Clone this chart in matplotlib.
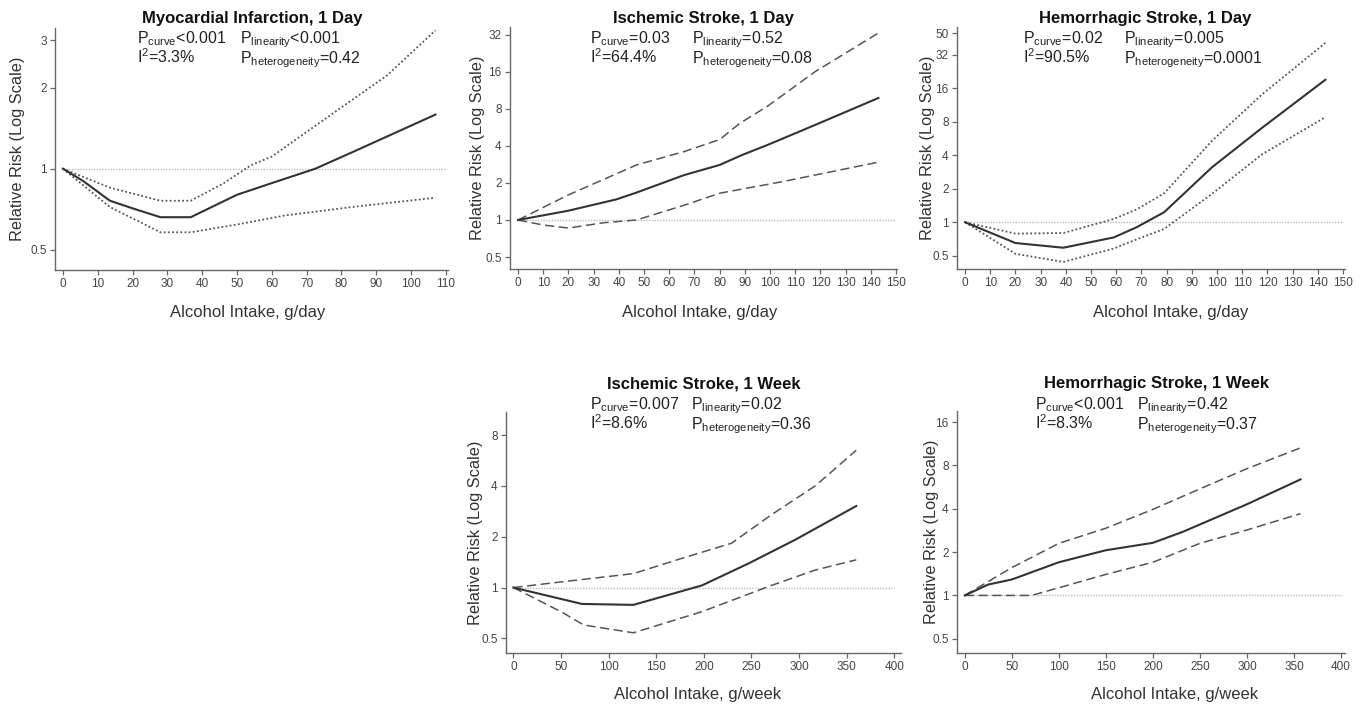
import matplotlib
matplotlib.use("Agg")
import matplotlib.pyplot as plt
from matplotlib.ticker import FixedLocator, NullLocator

plt.rcParams['font.family'] = ['Liberation Sans', 'DejaVu Sans']
plt.rcParams['mathtext.default'] = 'regular'

# ---- data ----
# Myocardial infarction, 1 day (g/day)
mi_x     = [0, 5.8, 13.5, 20.3, 28, 36.7, 50, 61.8, 72.5, 83, 107]
mi_rr    = [1, 0.90, 0.76, 0.71, 0.66, 0.66, 0.80, 0.90, 1.00, 1.15, 1.59]
mi_up_x  = [0, 13.5, 28, 36.7, 46, 54, 60, 73, 93, 107]
mi_up    = [1, 0.85, 0.76, 0.76, 0.88, 1.03, 1.11, 1.46, 2.22, 3.27]
mi_lo_x  = [0, 13.5, 28, 36.7, 50, 63.8, 83, 107]
mi_lo    = [1, 0.72, 0.58, 0.58, 0.62, 0.67, 0.72, 0.78]

# Ischemic stroke, 1 day (g/day)
isd_x    = [0, 20, 39, 47, 66, 80, 89, 99, 118, 143]
isd_rr   = [1, 1.19, 1.47, 1.67, 2.32, 2.8, 3.38, 4.07, 5.93, 9.8]
isd_up_x = [0, 20, 47, 66, 80, 88, 99, 118, 143]
isd_up   = [1, 1.6, 2.8, 3.6, 4.5, 6.1, 8.4, 16.1, 33]
isd_lo_x = [0, 10, 20, 34, 47, 66, 80, 105, 143]
isd_lo   = [1, 0.91, 0.86, 0.95, 1.0, 1.32, 1.65, 2.05, 2.95]

# Hemorrhagic stroke, 1 day (g/day)
hsd_x    = [0, 20, 39, 59, 68, 79, 98, 118, 143]
hsd_rr   = [1, 0.65, 0.59, 0.73, 0.9, 1.23, 3.12, 7.1, 19.1]
hsd_up   = [1, 0.79, 0.80, 1.07, 1.3, 1.82, 5.4, 14.2, 41]
hsd_lo   = [1, 0.52, 0.44, 0.58, 0.7, 0.87, 1.8, 4.1, 8.8]

# Ischemic stroke, 1 week (g/week)
isw_x    = [0, 72, 126, 198, 247, 296, 360]
isw_rr   = [1, 0.80, 0.79, 1.03, 1.39, 1.92, 3.04]
isw_up_x = [0, 50, 126, 177, 229, 271, 317, 360]
isw_up   = [1, 1.08, 1.21, 1.49, 1.83, 2.7, 4.0, 6.5]
isw_lo_x = [0, 50, 74, 126, 198, 271, 317, 360]
isw_lo   = [1, 0.72, 0.60, 0.54, 0.72, 1.03, 1.27, 1.46]

# Hemorrhagic stroke, 1 week (g/week)
hsw_x    = [0, 25, 50, 100, 150, 200, 232, 300, 357]
hsw_rr   = [1, 1.19, 1.29, 1.7, 2.06, 2.32, 2.77, 4.3, 6.4]
hsw_up_x = [0, 50, 100, 150, 200, 250, 300, 357]
hsw_up   = [1, 1.56, 2.3, 2.93, 3.96, 5.5, 7.6, 10.6]
hsw_lo_x = [0, 71, 100, 150, 200, 250, 300, 357]
hsw_lo   = [1, 1.0, 1.13, 1.4, 1.7, 2.3, 2.85, 3.7]

panels = [
    dict(pos=[0.0404, 0.6203, 0.2890, 0.3404], title='Myocardial Infarction, 1 Day',
         x=mi_x, rr=mi_rr, ux=mi_up_x, up=mi_up, lx=mi_lo_x, lo=mi_lo, ci='dot',
         xticks=list(range(0, 111, 10)), xlim=(-2.3, 110.6), xmax=110,
         yticks=[0.5, 1, 2, 3], ylabels=['0.5', '1', '2', '3'], ylim=(0.42, 3.34),
         xlab='Alcohol Intake, g/day',
         s1='P$_{curve}$<0.001', s2='P$_{linearity}$<0.001',
         s3='I$^{2}$=3.3%', s4='P$_{heterogeneity}$=0.42',
         sx=(0.21, 0.47), sy=(0.937, 0.854), tx=0.501, ty=1.019,
         ylc=-0.094, xlc=(0.49, -0.174)),
    dict(pos=[0.375, 0.6217, 0.2846, 0.3404], title='Ischemic Stroke, 1 Day',
         x=isd_x, rr=isd_rr, ux=isd_up_x, up=isd_up, lx=isd_lo_x, lo=isd_lo, ci='dash',
         xticks=list(range(0, 151, 10)), xlim=(-3.2, 150.4), xmax=150,
         yticks=[0.5, 1, 2, 4, 8, 16, 32], ylabels=['0.5', '1', '2', '4', '8', '16', '32'],
         ylim=(0.4, 37), xlab='Alcohol Intake, g/day',
         s1='P$_{curve}$=0.03', s2='P$_{linearity}$=0.52',
         s3='I$^{2}$=64.4%', s4='P$_{heterogeneity}$=0.08',
         sx=(0.207, 0.47), sy=(0.933, 0.85), tx=0.5, ty=1.018,
         ylc=-0.083, xlc=(0.49, -0.18)),
    dict(pos=[0.7037, 0.6217, 0.2853, 0.3404], title='Hemorrhagic Stroke, 1 Day',
         x=hsd_x, rr=hsd_rr, ux=hsd_x, up=hsd_up, lx=hsd_x, lo=hsd_lo, ci='dot',
         xticks=list(range(0, 151, 10)), xlim=(-3.2, 150.8), xmax=150,
         yticks=[0.5, 1, 2, 4, 8, 16, 32, 50],
         ylabels=['0.5', '1', '2', '4', '8', '16', '32', '50'],
         ylim=(0.38, 57), xlab='Alcohol Intake, g/day',
         s1='P$_{curve}$=0.02', s2='P$_{linearity}$=0.005',
         s3='I$^{2}$=90.5%', s4='P$_{heterogeneity}$=0.0001',
         sx=(0.17, 0.43), sy=(0.933, 0.85), tx=0.485, ty=1.018,
         ylc=-0.075, xlc=(0.55, -0.18)),
    dict(pos=[0.3721, 0.0816, 0.2904, 0.3394], title='Ischemic Stroke, 1 Week',
         x=isw_x, rr=isw_rr, ux=isw_up_x, up=isw_up, lx=isw_lo_x, lo=isw_lo, ci='dash',
         xticks=list(range(0, 401, 50)), xlim=(-7.7, 407), xmax=400,
         yticks=[0.5, 1, 2, 4, 8], ylabels=['0.5', '1', '2', '4', '8'],
         ylim=(0.41, 11), xlab='Alcohol Intake, g/week',
         s1='P$_{curve}$=0.007', s2='P$_{linearity}$=0.02',
         s3='I$^{2}$=8.6%', s4='P$_{heterogeneity}$=0.36',
         sx=(0.213, 0.468), sy=(1.01, 0.927), tx=0.5, ty=1.097,
         ylc=-0.078, xlc=(0.486, -0.174)),
    dict(pos=[0.7037, 0.0820, 0.2853, 0.3394], title='Hemorrhagic Stroke, 1 Week',
         x=hsw_x, rr=hsw_rr, ux=hsw_up_x, up=hsw_up, lx=hsw_lo_x, lo=hsw_lo, ci='dash',
         xticks=list(range(0, 401, 50)), xlim=(-8.2, 404.3), xmax=400,
         yticks=[0.5, 1, 2, 4, 8, 16], ylabels=['0.5', '1', '2', '4', '8', '16'],
         ylim=(0.4, 19), xlab='Alcohol Intake, g/week',
         s1='P$_{curve}$<0.001', s2='P$_{linearity}$=0.42',
         s3='I$^{2}$=8.3%', s4='P$_{heterogeneity}$=0.37',
         sx=(0.2, 0.463), sy=(1.01, 0.926), tx=0.515, ty=1.096,
         ylc=-0.065, xlc=(0.56, -0.175)),
]

fig = plt.figure(figsize=(13.6, 7.11), dpi=100)

for p in panels:
    ax = fig.add_axes(p['pos'])
    ax.set_yscale('log')

    # reference line at RR = 1
    ax.plot([0, p['xmax']], [1, 1], color='#bdbdbd', lw=1.0, ls=(0, (1, 1)), zorder=1)

    if p['ci'] == 'dot':
        ls_ci = (0, (1, 1.3))
        lw_ci = 1.3
    else:
        ls_ci = (0, (6, 3))
        lw_ci = 1.1
    ax.plot(p['ux'], p['up'], color='#555555', lw=lw_ci, ls=ls_ci, zorder=2)
    ax.plot(p['lx'], p['lo'], color='#555555', lw=lw_ci, ls=ls_ci, zorder=2)
    ax.plot(p['x'], p['rr'], color='#333333', lw=1.5, zorder=3)

    ax.set_xlim(*p['xlim'])
    ax.set_ylim(*p['ylim'])
    ax.set_xticks(p['xticks'])
    ax.yaxis.set_major_locator(FixedLocator(p['yticks']))
    ax.yaxis.set_minor_locator(NullLocator())
    ax.set_yticklabels(p['ylabels'])

    for s in ['top', 'right']:
        ax.spines[s].set_visible(False)
    for s in ['left', 'bottom']:
        ax.spines[s].set_color('#666666')
        ax.spines[s].set_linewidth(1.0)
    ax.tick_params(axis='both', length=3.5, width=0.9, color='#666666',
                   labelsize=8.5, labelcolor='#444444', pad=2.5)

    ax.set_ylabel('Relative Risk (Log Scale)', fontsize=11.8, color='#333333')
    ax.set_xlabel(p['xlab'], fontsize=12, color='#333333')
    ax.yaxis.set_label_coords(p['ylc'], 0.5)
    ax.xaxis.set_label_coords(*p['xlc'])
    ax.yaxis.label.set_va('center')
    ax.xaxis.label.set_va('center')

    ax.text(p['tx'], p['ty'], p['title'], transform=ax.transAxes, ha='center',
            va='baseline', fontsize=12, fontweight='bold', color='#111111')
    for txt, sx, sy in [(p['s1'], p['sx'][0], p['sy'][0]), (p['s2'], p['sx'][1], p['sy'][0]),
                        (p['s3'], p['sx'][0], p['sy'][1]), (p['s4'], p['sx'][1], p['sy'][1])]:
        ax.text(sx, sy, txt, transform=ax.transAxes, va='baseline',
                fontsize=11.5, color='#222222')

fig.savefig('out.png', dpi=100)
